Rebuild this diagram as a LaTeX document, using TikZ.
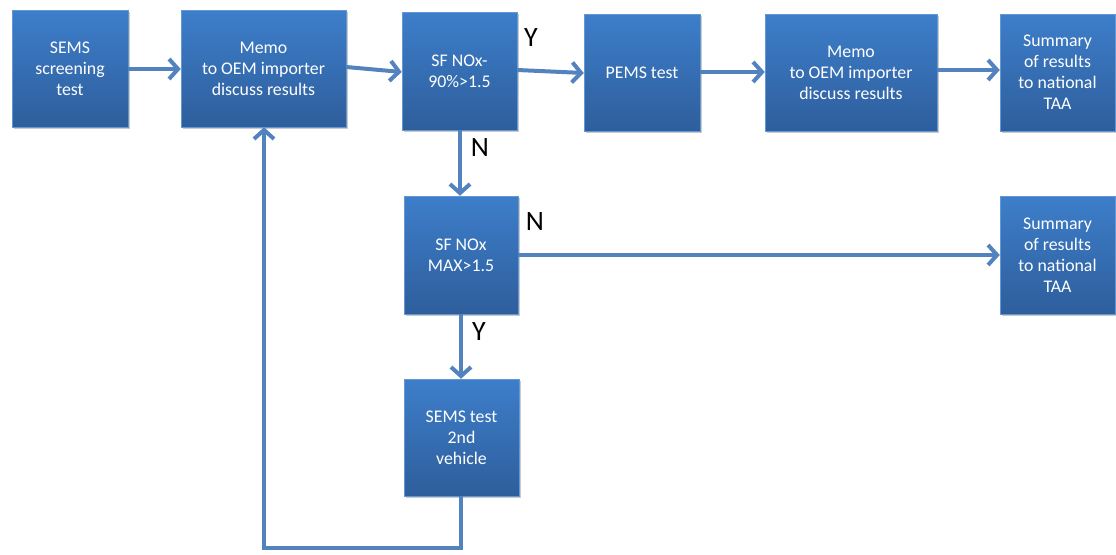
\documentclass[tikz,border=0pt]{standalone}
\usepackage{fontspec}
\setmainfont{Carlito}
\usetikzlibrary{arrows.meta,shadows}
\definecolor{boxtop}{HTML}{3D7ECA}
\definecolor{boxbot}{HTML}{2E5E9C}
\definecolor{arrowc}{HTML}{5283BE}
\tikzset{
  flowbox/.style={draw=boxtop!80!white, line width=0.5pt, top color=boxtop, bottom color=boxbot,
    text=white, font=\fontsize{17.8}{21}\selectfont, align=center, inner sep=0pt,
    drop shadow={shadow xshift=1.5pt, shadow yshift=-1.5pt, opacity=0.35, fill=black!60}},
  conn/.style={draw=arrowc, line width=4pt, -{Straight Barb[length=9pt,width=20pt,line width=4pt]}},
  yn/.style={font=\fontsize{28}{28}\selectfont, text=black}
}
\newcommand{\flowat}[7]{% name, x1, y1, x2, y2, text
  \node[flowbox, minimum width={(#4-#2)*1pt}, minimum height={(#5-#3)*1pt}] (#1) at ({(#2+#4)/2*1pt},{-(#3+#5)/2*1pt}) {#6};}
\begin{document}
\begin{tikzpicture}[x=1pt,y=-1pt]
\useasboundingbox (0,0) rectangle (1116,554);
\flowat{a}{12}{10}{128}{127}{SEMS\\screening\\test}{}
\flowat{b}{181}{10}{346}{127}{Memo\\to OEM importer\\discuss results}{}
\flowat{c}{402}{12}{517}{130}{SF NOx-\\90\%>1.5}{}
\flowat{d}{584}{14}{700}{131}{PEMS test}{}
\flowat{e}{765}{14}{937}{131}{Memo\\to OEM importer\\discuss results}{}
\flowat{f}{1000}{14}{1115}{131}{Summary\\of results\\to national\\TAA}{}
\flowat{g}{404}{196}{518}{314}{SF NOx\\MAX>1.5}{}
\flowat{h}{1000}{196}{1115}{314}{Summary\\of results\\to national\\TAA}{}
\flowat{i}{404}{379}{519}{496}{SEMS test\\2nd\\vehicle}{}
\draw[conn] (a.east |- 0,69) -- (b.west |- 0,69);
\draw[conn] (b.east |- 0,67) -- (c.west |- 0,72);
\draw[conn] (c.east |- 0,70) -- (d.west |- 0,73);
\draw[conn] (d.east |- 0,72) -- (e.west |- 0,72);
\draw[conn] (e.east |- 0,70) -- (f.west |- 0,70);
\draw[conn] (c.south -| 460,0) -- (g.north -| 460,0);
\draw[conn] (g.east |- 0,255) -- (h.west |- 0,255);
\draw[conn] (g.south -| 461,0) -- (i.north -| 461,0);
\coordinate (l1) at (461,548);
\coordinate (l2) at (264,548);
\draw[conn] (i.south -| 461,0) -- (l1) -- (l2) -- (b.south -| 264,0);
\node[yn] (y1) at (531,38) {Y};
\node[yn] (n1) at (480,148) {N};
\node[yn] (n2) at (535,222) {N};
\node[yn] (y2) at (479,332) {Y};
\end{tikzpicture}
\end{document}
